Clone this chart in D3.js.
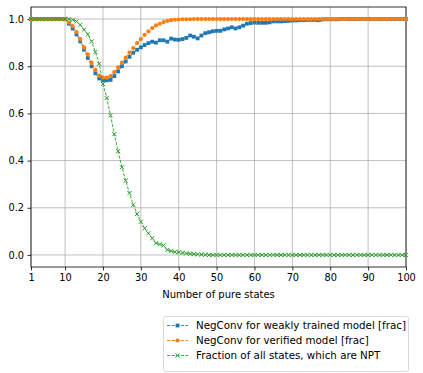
<!DOCTYPE html>
<html>
<head>
<meta charset="utf-8">
<script src="https://cdn.jsdelivr.net/npm/d3@7"></script>
<style>
  body { margin: 0; background: #fff; }
  svg { display: block; font-family: "DejaVu Sans", sans-serif; }
</style>
</head>
<body>
<div id="chart"></div>
<script>
// number of pure states 1..100
const states = d3.range(1, 101)

// NegConv for weakly trained model [frac]
const weakVals = [
  1, 1, 1, 1, 1, 1, 1, 1, 1, 1,
  0.98, 0.96, 0.935, 0.905, 0.87, 0.835, 0.80, 0.77, 0.748, 0.74,
  0.74, 0.742, 0.758, 0.778, 0.80, 0.82, 0.84, 0.857, 0.87, 0.88,
  0.89, 0.898, 0.904, 0.90, 0.91, 0.91, 0.904, 0.917, 0.913, 0.912,
  0.915, 0.92, 0.93, 0.925, 0.918, 0.93, 0.94, 0.944, 0.948, 0.95,
  0.95, 0.956, 0.96, 0.965, 0.96, 0.965, 0.972, 0.98, 0.983, 0.985,
  0.984, 0.984, 0.984, 0.986, 0.99, 0.99, 0.99, 0.991, 0.992, 0.994,
  0.994, 0.995, 0.995, 0.996, 0.996, 0.996, 0.995, 0.998, 0.999, 0.999,
  0.999, 0.999, 1, 1, 1, 1, 1, 1, 1, 1,
  1, 1, 1, 1, 1, 1, 1, 1, 1, 1
]

// NegConv for verified model [frac]
const verifiedVals = [
  1, 1, 1, 1, 1, 1, 1, 1, 1, 1,
  0.985, 0.97, 0.945, 0.915, 0.88, 0.85, 0.815, 0.785, 0.76, 0.752,
  0.752, 0.758, 0.775, 0.795, 0.815, 0.837, 0.858, 0.877, 0.898, 0.915,
  0.933, 0.948, 0.962, 0.973, 0.98, 0.987, 0.992, 0.995, 0.997, 0.998,
  0.999, 0.999, 0.999, 1, 1, 1, 1, 1, 1, 1,
  1, 1, 1, 1, 1, 1, 1, 1, 1, 1,
  1, 1, 1, 1, 1, 1, 1, 1, 1, 1,
  1, 1, 1, 1, 1, 1, 1, 1, 1, 1,
  1, 1, 1, 1, 1, 1, 1, 1, 1, 1,
  1, 1, 1, 1, 1, 1, 1, 1, 1, 1
]

// Fraction of all states, which are NPT
const nptVals = [
  1, 1, 1, 1, 1, 1, 1, 1, 1, 1,
  1, 0.997, 0.99, 0.975, 0.955, 0.935, 0.905, 0.86, 0.81, 0.725,
  0.665, 0.592, 0.512, 0.44, 0.372, 0.315, 0.262, 0.213, 0.174, 0.141,
  0.113, 0.092, 0.071, 0.05, 0.045, 0.04, 0.022, 0.017, 0.013, 0.012,
  0.009, 0.007, 0.005, 0.004, 0.003, 0.002, 0.001, 0, 0, 0,
  0, 0, 0, 0, 0, 0, 0, 0, 0, 0,
  0, 0, 0, 0, 0, 0, 0, 0, 0, 0,
  0, 0, 0, 0, 0, 0, 0, 0, 0, 0,
  0, 0, 0, 0, 0, 0, 0, 0, 0, 0,
  0, 0, 0, 0, 0, 0, 0, 0, 0, 0
]

const seriesNames = [
  "NegConv for weakly trained model [frac]",
  "NegConv for verified model [frac]",
  "Fraction of all states, which are NPT"
]
const seriesColors = ["#1f77b4", "#ff7f0e", "#2ca02c"]
const seriesMarkers = ["square", "circle", "cross"]

const xTicks = [1, 10, 20, 30, 40, 50, 60, 70, 80, 90, 100]
const yTicks = [0, 0.2, 0.4, 0.6, 0.8, 1.0]

// setup dimensions
const W = 423, H = 373
const margin = { top: 7, right: 17, bottom: 106, left: 31 }
const width = W - margin.left - margin.right
const height = H - margin.top - margin.bottom
const fontSize = "9.8px"

const svg = d3.select("#chart").append("svg")
  .attr("width", W)
  .attr("height", H)

const g = svg.append("g")
  .attr("transform", `translate(${margin.left},${margin.top})`)

const x = d3.scaleLinear().domain([1, 100]).range([0, width])
const y = d3.scaleLinear().domain([-0.051, 1.051]).range([height, 0])

// grid
g.append("g").selectAll("line").data(xTicks).join("line")
  .attr("x1", d => x(d)).attr("x2", d => x(d))
  .attr("y1", 0).attr("y2", height)
  .attr("stroke", "#b0b0b0").attr("stroke-width", 0.8)
g.append("g").selectAll("line").data(yTicks).join("line")
  .attr("x1", 0).attr("x2", width)
  .attr("y1", d => y(d)).attr("y2", d => y(d))
  .attr("stroke", "#b0b0b0").attr("stroke-width", 0.8)

// axes
const xAxis = g.append("g")
  .attr("transform", `translate(0,${height})`)
  .call(d3.axisBottom(x).tickValues(xTicks).tickSize(3.5).tickPadding(3.5).tickFormat(d3.format("d")))
const yAxis = g.append("g")
  .call(d3.axisLeft(y).tickValues(yTicks).tickSize(3.5).tickPadding(3.5).tickFormat(d3.format(".1f")))
for (const ax of [xAxis, yAxis]) {
  ax.select(".domain").remove()
  ax.selectAll("line").attr("stroke", "#000").attr("stroke-width", 0.8)
  ax.selectAll("text").attr("fill", "#000").style("font-size", fontSize)
    .style("font-family", "DejaVu Sans, sans-serif")
}

// frame
g.append("rect")
  .attr("width", width).attr("height", height)
  .attr("fill", "none").attr("stroke", "#000").attr("stroke-width", 0.8)

// x label
g.append("text")
  .attr("x", width / 2).attr("y", height + 30.5)
  .attr("text-anchor", "middle")
  .style("font-size", "10px")
  .text("Number of pure states")

const allSeries = [weakVals, verifiedVals, nptVals]

function drawMarker(sel, kind, color) {
  if (kind === "square") {
    sel.append("rect").attr("x", -1.9).attr("y", -1.9).attr("width", 3.8).attr("height", 3.8)
      .attr("fill", color)
  } else if (kind === "circle") {
    sel.append("circle").attr("r", 2.1).attr("fill", color)
  } else {
    sel.append("path").attr("d", "M-2.1,-2.1L2.1,2.1M-2.1,2.1L2.1,-2.1")
      .attr("stroke", color).attr("stroke-width", 1).attr("fill", "none")
  }
}

const line = d3.line().x(d => x(d[0])).y(d => y(d[1]))

allSeries.forEach((vals, i) => {
  const data = states.map((s, k) => [s, vals[k]])
  const sg = g.append("g")
  sg.append("path")
    .datum(data)
    .attr("fill", "none")
    .attr("stroke", seriesColors[i])
    .attr("stroke-width", 0.9)
    .attr("stroke-dasharray", "3.2,1.4")
    .attr("d", line)
  sg.selectAll("g.m").data(data).join("g")
    .attr("class", "m")
    .attr("transform", d => `translate(${x(d[0])},${y(d[1])})`)
    .each(function () { drawMarker(d3.select(this), seriesMarkers[i], seriesColors[i]) })
})

// legend
const lg = svg.append("g").attr("transform", "translate(163,316)")
lg.append("rect")
  .attr("x", 0.5).attr("y", 0.5).attr("width", 245).attr("height", 55)
  .attr("rx", 2).attr("fill", "#fff").attr("stroke", "#d0d0d0").attr("stroke-width", 0.8)
seriesNames.forEach((name, i) => {
  const row = lg.append("g").attr("transform", `translate(0,${9.5 + i * 15})`)
  row.append("line")
    .attr("x1", 4).attr("x2", 25).attr("y1", 0).attr("y2", 0)
    .attr("stroke", seriesColors[i]).attr("stroke-width", 0.9)
    .attr("stroke-dasharray", "3.2,1.4")
  drawMarker(row.append("g").attr("transform", "translate(14.5,0)"), seriesMarkers[i], seriesColors[i])
  row.append("text")
    .attr("x", 33).attr("y", 3.6)
    .style("font-size", "10.3px")
    .text(name)
})
</script>
</body>
</html>
